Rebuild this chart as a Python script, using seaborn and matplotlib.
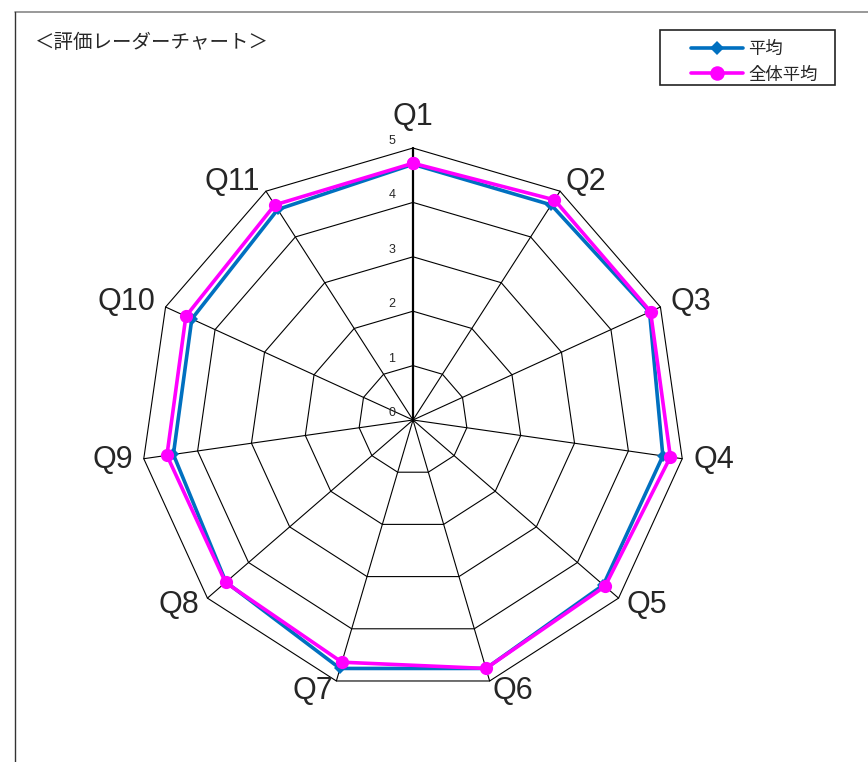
import numpy as np
import pandas as pd
import matplotlib
matplotlib.use("Agg")
import matplotlib.pyplot as plt
import seaborn as sns
from matplotlib.lines import Line2D
from matplotlib.patches import Rectangle

# データ
questions = ['Q1', 'Q2', 'Q3', 'Q4', 'Q5', 'Q6', 'Q7', 'Q8', 'Q9', 'Q10', 'Q11']
avg_scores = [4.70, 4.70, 4.78, 4.64, 4.63, 4.76, 4.76, 4.55, 4.45, 4.47, 4.60]
overall_scores = [4.72, 4.81, 4.80, 4.78, 4.67, 4.76, 4.64, 4.56, 4.57, 4.59, 4.70]
scale_ticks = [0, 1, 2, 3, 4, 5]
series_names = ['平均', '全体平均']
title_text = '＜評価レーダーチャート＞'

sns.set_style("white")
plt.rcParams['font.family'] = ['Noto Sans CJK JP', 'DejaVu Sans']

n = len(questions)
angles = np.pi / 2 - 2 * np.pi * np.arange(n) / n
rmax = scale_ticks[-1]


def to_xy(values):
    """値をレーダー座標に変換（閉じたループ）"""
    r = np.append(values, values[0])
    a = np.append(angles, angles[0])
    return r * np.cos(a), r * np.sin(a)


fig = plt.figure(figsize=(8.68, 7.62), dpi=100)
W, H = 868, 762
cx, cy, half = 413, 420, 340  # 中心と半幅（ピクセル）
ax = fig.add_axes([(cx - half) / W, (H - cy - half) / H, 2 * half / W, 2 * half / H])
lim = rmax * half / 272
ax.set_xlim(-lim, lim)
ax.set_ylim(-lim, lim)
ax.set_aspect('equal')
ax.axis('off')

# グリッド（多角形）
for k in scale_ticks[1:]:
    gx, gy = to_xy([k] * n)
    ax.plot(gx, gy, color='black', lw=0.8, zorder=1)
# 放射線
for i, a in enumerate(angles):
    ax.plot([0, rmax * np.cos(a)], [0, rmax * np.sin(a)], color='black',
            lw=1.6 if i == 0 else 0.8, zorder=1)

# 目盛ラベル
for k in scale_ticks:
    ax.text(-0.39, k + 0.02, str(k), ha='center', va='bottom', fontsize=9,
            family=['Liberation Sans'])

# 軸ラベル
for q, a in zip(questions, angles):
    c, s = np.cos(a), np.sin(a)
    if abs(c) < 0.05:
        ax.text(0, 5.3, q, ha='center', va='bottom', fontsize=22,
                family=['Liberation Sans'])
    else:
        ax.text(5.2 * c, 5.2 * s, q, ha='left' if c > 0 else 'right',
                va='center', fontsize=22, family=['Liberation Sans'])

# 系列
x1, y1 = to_xy(avg_scores)
x2, y2 = to_xy(overall_scores)
df1 = pd.DataFrame({'x': x1, 'y': y1})
df2 = pd.DataFrame({'x': x2, 'y': y2})
sns.lineplot(data=df1, x='x', y='y', sort=False, estimator=None, ax=ax,
             color='#0070C0', lw=2.6, marker='D', markersize=6.5,
             markeredgewidth=0, label=series_names[0], zorder=3)
sns.lineplot(data=df2, x='x', y='y', sort=False, estimator=None, ax=ax,
             color='#FF00FF', lw=2.6, marker='o', markersize=9.5,
             markeredgewidth=0, label=series_names[1], zorder=4)

ax.legend(loc='upper left', bbox_to_anchor=(682 / W, 1 - 31 / H),
          bbox_transform=fig.transFigure, fontsize=12.5, frameon=False,
          handlelength=3.0, borderpad=0, labelspacing=0.45,
          handletextpad=0.3, markerscale=1.1)
fig.add_artist(Rectangle((660 / W, 1 - 85 / H), 175 / W, 55 / H,
                         transform=fig.transFigure, fill=False,
                         edgecolor='#222222', lw=1.2))

# タイトル
fig.text(35 / W, 1 - 42 / H, title_text, ha='left', va='center', fontsize=14)

# 外枠
fig.add_artist(Line2D([15 / W, 1], [1 - 12 / H, 1 - 12 / H], color='#888888',
                      lw=1.2, transform=fig.transFigure))
fig.add_artist(Line2D([15 / W, 15 / W], [0, 1 - 12 / H], color='#333333',
                      lw=1.0, transform=fig.transFigure))

fig.savefig('out.png', dpi=100)
